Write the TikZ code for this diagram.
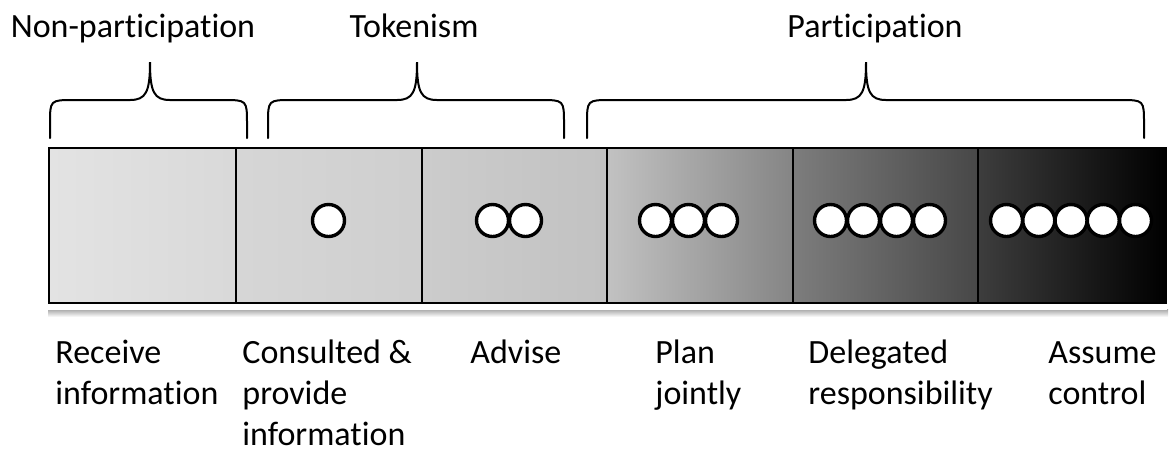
\documentclass[tikz,border=0pt]{standalone}
\usepackage{fontspec}
\setmainfont{Carlito}[Ligatures=NoCommon]
\usetikzlibrary{positioning}
\newcommand{\stagetext}[1]{\begin{tabular}[t]{@{}l@{}}#1\end{tabular}}

\begin{document}
\begin{tikzpicture}[x=0.5pt,y=-0.5pt,
    brace/.style={line width=1pt,line cap=round},
    cell/.style={draw=black,line width=0.75pt},
    dot/.style={draw=black,fill=white,line width=1.7pt},
    heading/.style={font=\fontsize{17}{21}\selectfont,inner sep=0pt},
    stage/.style={font=\fontsize{17}{20.6}\selectfont,inner sep=0pt,anchor=base west}]
        \useasboundingbox (0,0) rectangle (1171,452);
        % Shadow under the bar
        \shade[top color=black!35,bottom color=white] (48,309) rectangle (1168,317);
        \fill[white] (47,303) rectangle (1167,310);
        % Cells
        \foreach \xa/\xb/\cl/\cr in {49/236/black!11/black!15,236/422/black!16/black!19,
            422/607/black!20/black!24,607/793/black!24/black!48,
            793/978/black!51/black!72,978/1166/black!76/black}
          \shade[left color=\cl,right color=\cr] (\xa,148) rectangle (\xb,303);
        \draw[cell] (49,148) rectangle (1166,303);
        \foreach \x in {236,422,607,793,978}
          \draw[cell] (\x,148) -- (\x,303);
        % Dots
        \foreach \x in {328.5, 492.5,525.5, 655.5,688.5,721.5, 830.5,863.5,896.5,929.5,
            1006.5,1038.75,1071,1103.25,1135.5}
          \draw[dot] (\x,220.5) circle[radius=16];
        % Braces
        \foreach \xa/\xt/\xb in {50/150/247,268/417/564,587/866/1144}
          \draw[brace] (\xa,138) -- (\xa,124) .. controls (\xa,100) .. (\xa+24,100)
            -- (\xt-20,100) .. controls (\xt-4,100) and (\xt,92) .. (\xt,62)
            .. controls (\xt,92) and (\xt+4,100) .. (\xt+20,100)
            -- (\xb-24,100) .. controls (\xb,100) .. (\xb,124) -- (\xb,138);
        % Headings
        \node[heading,anchor=base] (nonpart) at (133,37) {Non-participation};
        \node[heading,anchor=base] (token) at (414,37) {Tokenism};
        \node[heading,anchor=base] (partic) at (875,37) {Participation};
        % Stages
        \node[stage] (receive) at (55,363) {\stagetext{Receive\\information}};
        \node[stage] (consult) at (242,363) {\stagetext{Consulted \&\\provide\\information}};
        \node[stage] (advise) at (470,363) {\stagetext{Advise}};
        \node[stage] (plan) at (655,363) {\stagetext{Plan\\jointly}};
        \node[stage] (delegate) at (808,363) {\stagetext{Delegated\\responsibility}};
        \node[stage] (assume) at (1048,363) {\stagetext{Assume\\control}};
\end{tikzpicture}
\end{document}
